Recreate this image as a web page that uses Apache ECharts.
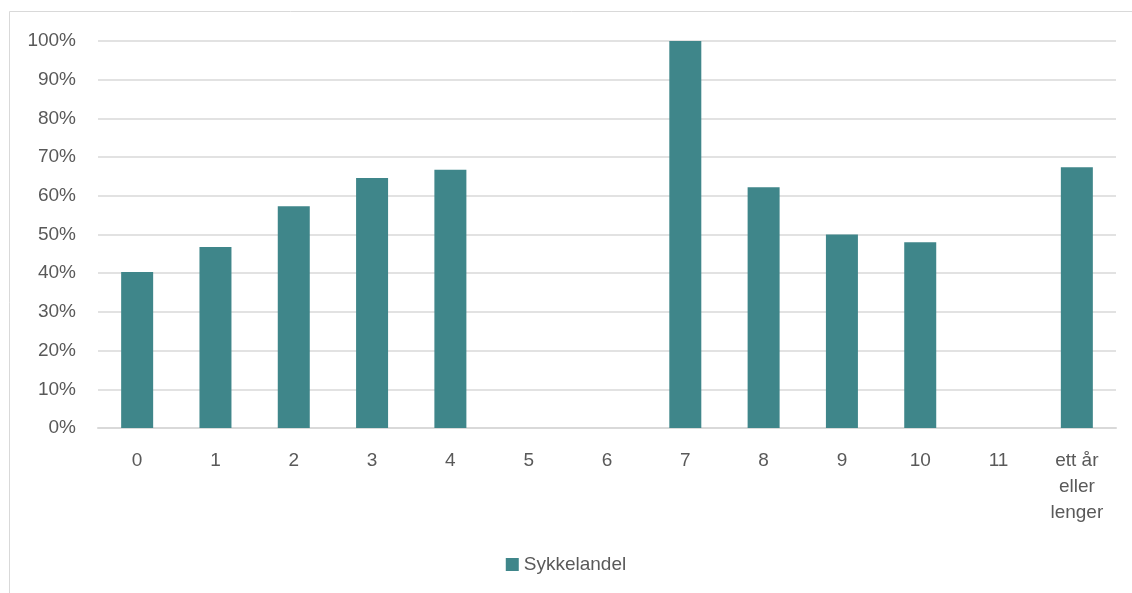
<!DOCTYPE html>
<html>
<head>
<meta charset="utf-8">
<script src="https://cdn.jsdelivr.net/npm/echarts@6/dist/echarts.min.js"></script>
<style>
  html, body { margin: 0; padding: 0; background: #fff; }
  #chart { width: 1132px; height: 593px; }
</style>
</head>
<body>
<div id="chart"></div>
<script>
var categories = ['0', '1', '2', '3', '4', '5', '6', '7', '8', '9', '10', '11', 'ett år\neller\nlenger'];
var sykkelandel = [0.403, 0.468, 0.573, 0.646, 0.667, 0, 0, 1.0, 0.622, 0.50, 0.48, 0, 0.674];

var font = '"Liberation Sans Narrow", "Arial Narrow", "Liberation Sans", sans-serif';
var textColor = '#595959';

var chart = echarts.init(document.getElementById('chart'));
var option = {
  animation: false,
  graphic: [{
    type: 'rect',
    shape: { x: 9.5, y: 11.5, width: 1130, height: 600 },
    style: { fill: 'none', stroke: '#d9d9d9', lineWidth: 1 },
    silent: true
  }],
  grid: { left: 98, right: 16, top: 41, bottom: 165 },
  legend: {
    data: ['Sykkelandel'],
    bottom: 14,
    left: 'center',
    itemWidth: 13,
    itemHeight: 13,
    itemGap: 6,
    icon: 'rect',
    textStyle: { color: textColor, fontSize: 19, fontFamily: font }
  },
  xAxis: {
    type: 'category',
    data: categories,
    axisTick: { show: false },
    axisLine: { lineStyle: { color: '#d9d9d9', width: 2 } },
    axisLabel: { color: textColor, fontSize: 19, fontFamily: font, margin: 20, lineHeight: 26, interval: 0 }
  },
  yAxis: {
    type: 'value',
    min: 0,
    max: 1,
    interval: 0.1,
    axisLine: { show: false },
    axisTick: { show: false },
    splitLine: { lineStyle: { color: '#d9d9d9', width: 1.5 } },
    axisLabel: {
      color: textColor, fontSize: 19, fontFamily: font, margin: 22,
      formatter: function (v) { return Math.round(v * 100) + '%'; }
    }
  },
  series: [{
    name: 'Sykkelandel',
    type: 'bar',
    data: sykkelandel,
    barWidth: 32,
    itemStyle: { color: '#3f868a' }
  }]
};
chart.setOption(option);
</script>
</body>
</html>
